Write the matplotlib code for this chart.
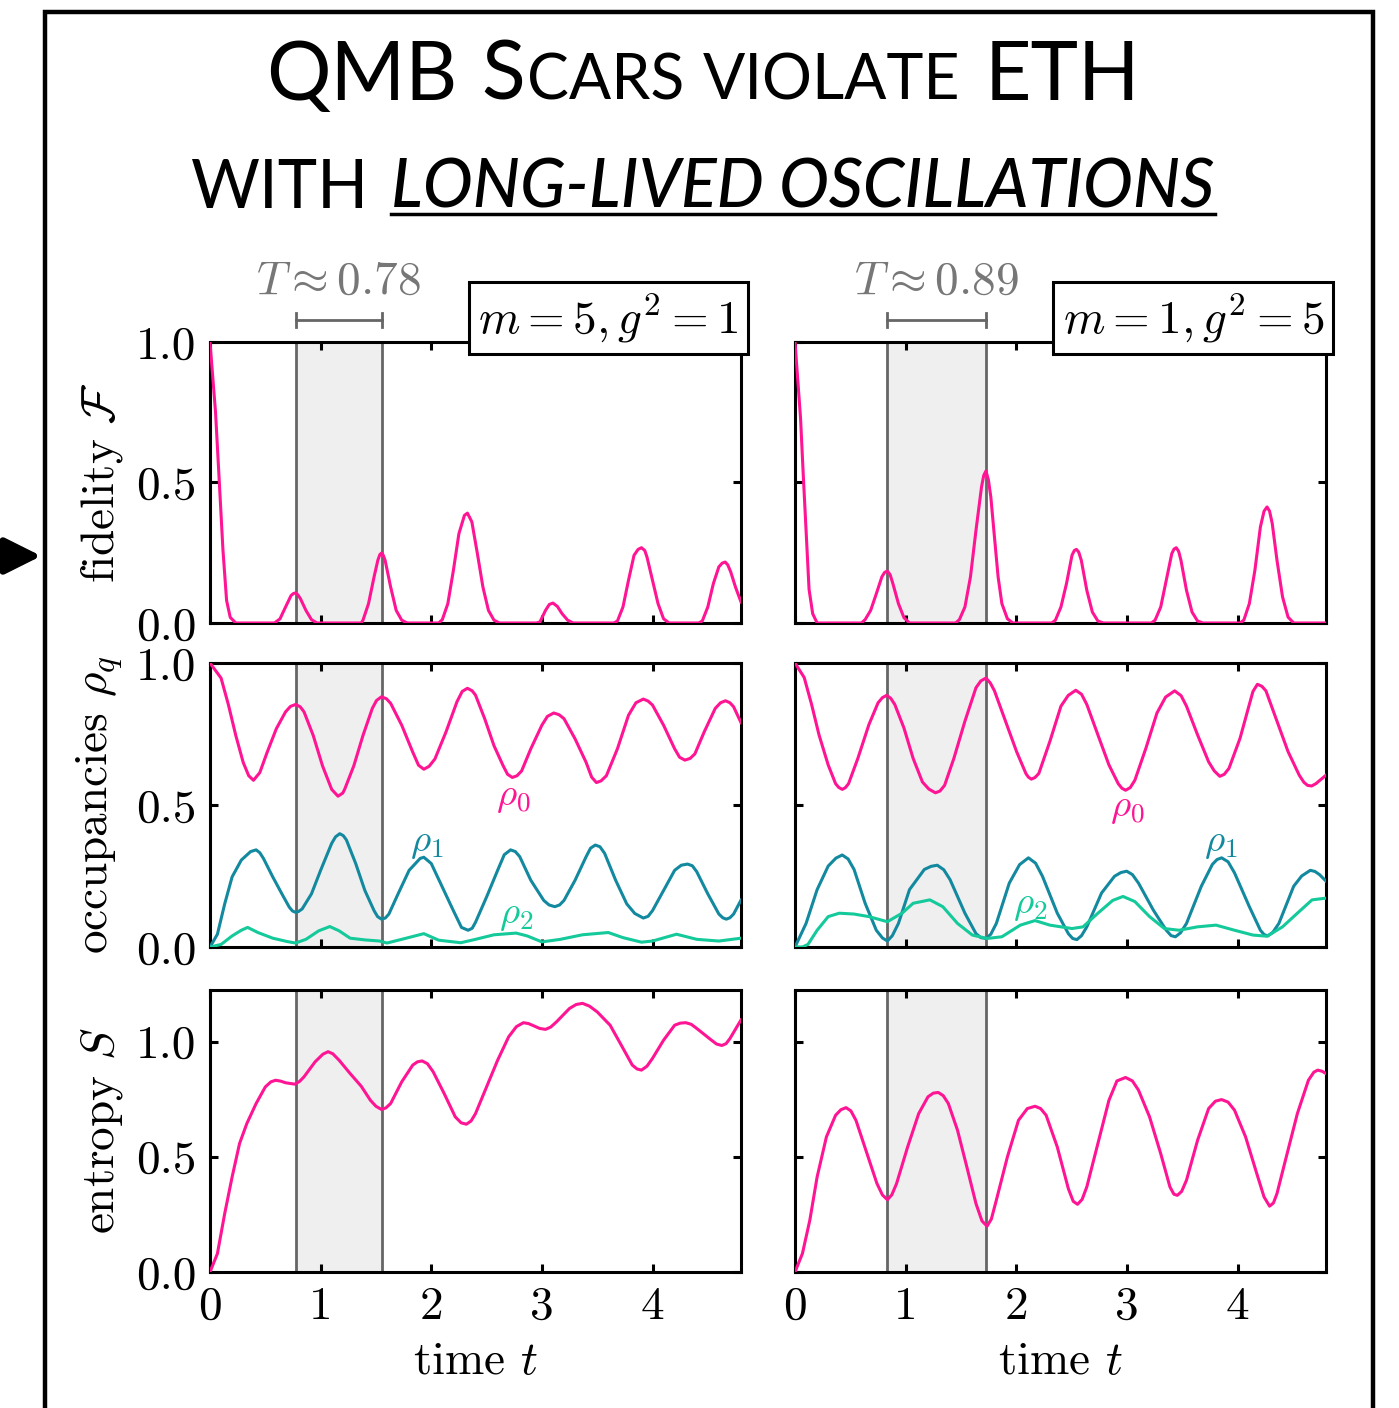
import matplotlib
matplotlib.use("Agg")
import matplotlib.pyplot as plt
from matplotlib.patches import Rectangle, FancyArrowPatch
from matplotlib.lines import Line2D

# ---- data, (time, value) ----
fid_l = [(0, 1.0), (0.05, 0.75), (0.083, 0.51), (0.117, 0.26), (0.15, 0.08), (0.183, 0.02),
         (0.233, 0.0), (0.583, 0.0),
         (0.633, 0.015), (0.683, 0.057), (0.733, 0.098), (0.755, 0.105), (0.773, 0.107),
         (0.795, 0.1), (0.817, 0.087), (0.867, 0.045), (0.917, 0.012), (0.967, 0.0),
         (1.367, 0.0), (1.383, 0.01), (1.433, 0.069), (1.483, 0.164), (1.517, 0.223),
         (1.535, 0.243), (1.55, 0.249), (1.565, 0.242), (1.583, 0.223), (1.633, 0.128),
         (1.683, 0.045), (1.733, 0.01), (1.783, 0.0),
         (2.067, 0.0), (2.1, 0.012), (2.15, 0.069), (2.2, 0.187), (2.25, 0.318), (2.3, 0.383),
         (2.327, 0.391), (2.367, 0.36), (2.417, 0.247), (2.467, 0.128), (2.517, 0.045),
         (2.567, 0.01), (2.617, 0.0),
         (2.95, 0.0), (2.983, 0.004), (3.033, 0.045), (3.067, 0.066), (3.1, 0.071),
         (3.14, 0.059), (3.183, 0.033), (3.233, 0.01), (3.283, 0.0),
         (3.65, 0.0), (3.683, 0.007), (3.733, 0.057), (3.783, 0.152), (3.833, 0.241),
         (3.87, 0.262), (3.9, 0.268), (3.93, 0.258), (3.95, 0.235), (4.0, 0.152),
         (4.05, 0.069), (4.1, 0.015), (4.15, 0.0),
         (4.417, 0.0), (4.45, 0.007), (4.5, 0.057), (4.55, 0.14), (4.6, 0.2), (4.63, 0.213),
         (4.657, 0.217), (4.68, 0.207), (4.707, 0.182), (4.75, 0.128), (4.8, 0.075)]

fid_r = [(0, 1.0), (0.05, 0.73), (0.073, 0.54), (0.1, 0.33), (0.127, 0.12), (0.16, 0.033),
         (0.2, 0.0), (0.601, 0.0),
         (0.634, 0.012), (0.684, 0.045), (0.735, 0.104), (0.785, 0.164), (0.81, 0.18),
         (0.835, 0.185), (0.86, 0.172), (0.885, 0.14), (0.935, 0.069), (0.985, 0.019),
         (1.035, 0.0),
         (1.452, 0.0), (1.486, 0.012), (1.536, 0.057), (1.586, 0.164), (1.636, 0.33),
         (1.686, 0.484), (1.706, 0.525), (1.726, 0.541), (1.748, 0.51), (1.77, 0.449),
         (1.803, 0.306), (1.836, 0.164), (1.87, 0.069), (1.92, 0.015), (1.97, 0.0),
         (2.321, 0.0), (2.354, 0.01), (2.404, 0.057), (2.454, 0.14), (2.504, 0.241),
         (2.525, 0.258), (2.544, 0.262), (2.565, 0.252), (2.588, 0.223), (2.638, 0.116),
         (2.688, 0.039), (2.738, 0.007), (2.788, 0.0),
         (3.222, 0.0), (3.255, 0.01), (3.306, 0.057), (3.356, 0.152), (3.406, 0.247),
         (3.426, 0.263), (3.446, 0.268), (3.468, 0.255), (3.489, 0.223), (3.539, 0.116),
         (3.589, 0.039), (3.639, 0.007), (3.689, 0.0),
         (4.023, 0.0), (4.057, 0.01), (4.107, 0.069), (4.157, 0.187), (4.207, 0.342),
         (4.24, 0.398), (4.267, 0.413), (4.29, 0.398), (4.314, 0.354), (4.357, 0.223),
         (4.407, 0.093), (4.457, 0.021), (4.508, 0.0), (4.8, 0.0)]

rho0_l = [(0, 1.0), (0.1, 0.947), (0.167, 0.852), (0.233, 0.745), (0.3, 0.65), (0.35, 0.603),
          (0.393, 0.587), (0.45, 0.614), (0.517, 0.686), (0.6, 0.769), (0.683, 0.828),
          (0.727, 0.847), (0.773, 0.854), (0.815, 0.846), (0.85, 0.828), (0.933, 0.745),
          (1.017, 0.638), (1.1, 0.555), (1.157, 0.531), (1.2, 0.542), (1.217, 0.555),
          (1.3, 0.638), (1.383, 0.745), (1.467, 0.84), (1.505, 0.868), (1.55, 0.881),
          (1.595, 0.874), (1.633, 0.858), (1.733, 0.781), (1.833, 0.686), (1.885, 0.64),
          (1.933, 0.626), (1.98, 0.636), (2.033, 0.662), (2.133, 0.757), (2.233, 0.864),
          (2.28, 0.9), (2.327, 0.911), (2.37, 0.902), (2.4, 0.887), (2.483, 0.804),
          (2.567, 0.709), (2.65, 0.638), (2.69, 0.608), (2.733, 0.597), (2.775, 0.603),
          (2.817, 0.62), (2.9, 0.698), (3.0, 0.781), (3.05, 0.812), (3.107, 0.824),
          (3.155, 0.818), (3.2, 0.804), (3.3, 0.733), (3.4, 0.65), (3.45, 0.598),
          (3.493, 0.579), (3.535, 0.585), (3.583, 0.603), (3.683, 0.698), (3.783, 0.816),
          (3.85, 0.86), (3.917, 0.873), (3.96, 0.866), (4.0, 0.852), (4.1, 0.781),
          (4.2, 0.698), (4.245, 0.668), (4.293, 0.658), (4.34, 0.664), (4.383, 0.68),
          (4.467, 0.757), (4.567, 0.84), (4.615, 0.86), (4.66, 0.867), (4.7, 0.86),
          (4.733, 0.846), (4.8, 0.79)]

rho1_l = [(0, 0.0), (0.067, 0.045), (0.133, 0.152), (0.2, 0.247), (0.283, 0.306),
          (0.367, 0.336), (0.417, 0.342), (0.45, 0.332), (0.483, 0.312), (0.567, 0.247),
          (0.65, 0.187), (0.717, 0.14), (0.745, 0.127), (0.773, 0.122), (0.8, 0.125),
          (0.833, 0.134), (0.917, 0.187), (1.0, 0.27), (1.1, 0.365), (1.135, 0.388),
          (1.173, 0.399), (1.205, 0.392), (1.233, 0.377), (1.317, 0.294), (1.4, 0.199),
          (1.483, 0.128), (1.515, 0.107), (1.55, 0.098), (1.585, 0.102), (1.617, 0.116),
          (1.7, 0.187), (1.8, 0.27), (1.9, 0.312), (1.933, 0.316), (2.0, 0.294),
          (2.1, 0.211), (2.2, 0.128), (2.273, 0.069), (2.333, 0.059), (2.37, 0.066),
          (2.4, 0.087), (2.5, 0.176), (2.6, 0.27), (2.66, 0.325), (2.717, 0.342),
          (2.76, 0.336), (2.8, 0.318), (2.9, 0.235), (3.017, 0.164), (3.065, 0.148),
          (3.117, 0.142), (3.16, 0.148), (3.2, 0.164), (3.3, 0.235), (3.4, 0.318),
          (3.44, 0.348), (3.483, 0.359), (3.525, 0.353), (3.567, 0.33), (3.667, 0.235),
          (3.767, 0.152), (3.84, 0.118), (3.917, 0.102), (3.96, 0.108), (4.0, 0.128),
          (4.1, 0.199), (4.2, 0.27), (4.26, 0.288), (4.317, 0.292), (4.36, 0.286),
          (4.4, 0.265), (4.5, 0.187), (4.6, 0.116), (4.635, 0.103), (4.667, 0.098),
          (4.7, 0.103), (4.733, 0.116), (4.8, 0.165)]

rho2_l = [(0, 0.0), (0.1, 0.009), (0.2, 0.039), (0.283, 0.059), (0.34, 0.069), (0.433, 0.051),
          (0.567, 0.031), (0.7, 0.019), (0.773, 0.014), (0.867, 0.027), (0.983, 0.057),
          (1.083, 0.072), (1.167, 0.057), (1.267, 0.031), (1.4, 0.025), (1.533, 0.021),
          (1.6, 0.014), (1.733, 0.027), (1.933, 0.047), (2.067, 0.024), (2.267, 0.015),
          (2.4, 0.027), (2.567, 0.043), (2.767, 0.049), (2.867, 0.039), (3.0, 0.018),
          (3.167, 0.027), (3.367, 0.043), (3.6, 0.051), (3.733, 0.033), (3.9, 0.017),
          (4.0, 0.021), (4.217, 0.045), (4.4, 0.027), (4.6, 0.021), (4.8, 0.031)]

rho0_r = [(0, 1.0), (0.083, 0.949), (0.15, 0.854), (0.217, 0.747), (0.3, 0.641),
          (0.367, 0.575), (0.395, 0.562), (0.427, 0.555), (0.455, 0.561), (0.484, 0.575),
          (0.568, 0.664), (0.668, 0.783), (0.751, 0.86), (0.79, 0.878), (0.828, 0.886),
          (0.865, 0.876), (0.902, 0.854), (0.985, 0.771), (1.068, 0.664), (1.152, 0.581),
          (1.21, 0.556), (1.269, 0.543), (1.31, 0.549), (1.352, 0.569), (1.436, 0.664),
          (1.536, 0.795), (1.636, 0.913), (1.68, 0.937), (1.726, 0.947), (1.765, 0.93),
          (1.803, 0.902), (1.903, 0.795), (2.003, 0.688), (2.087, 0.611), (2.11, 0.598),
          (2.137, 0.591), (2.17, 0.597), (2.204, 0.611), (2.304, 0.724), (2.404, 0.848),
          (2.47, 0.886), (2.538, 0.904), (2.59, 0.89), (2.638, 0.854), (2.738, 0.747),
          (2.838, 0.641), (2.922, 0.575), (2.955, 0.559), (2.988, 0.552), (3.03, 0.561),
          (3.072, 0.587), (3.172, 0.7), (3.272, 0.824), (3.35, 0.88), (3.432, 0.902),
          (3.49, 0.885), (3.539, 0.848), (3.639, 0.747), (3.739, 0.652), (3.79, 0.62),
          (3.84, 0.601), (3.88, 0.608), (3.923, 0.629), (4.023, 0.735), (4.107, 0.854),
          (4.14, 0.9), (4.18, 0.925), (4.22, 0.918), (4.257, 0.902), (4.357, 0.795),
          (4.457, 0.688), (4.558, 0.605), (4.6, 0.58), (4.634, 0.569), (4.67, 0.567),
          (4.708, 0.575), (4.8, 0.605)]

rho1_r = [(0, 0.0), (0.1, 0.083), (0.2, 0.202), (0.3, 0.285), (0.37, 0.313), (0.427, 0.324),
          (0.48, 0.31), (0.534, 0.273), (0.634, 0.154), (0.735, 0.059), (0.79, 0.032),
          (0.835, 0.021), (0.88, 0.04), (0.935, 0.083), (1.035, 0.202), (1.169, 0.273),
          (1.23, 0.284), (1.286, 0.288), (1.345, 0.272), (1.402, 0.237), (1.536, 0.119),
          (1.636, 0.047), (1.68, 0.033), (1.726, 0.03), (1.77, 0.045), (1.82, 0.083),
          (1.937, 0.225), (2.03, 0.29), (2.11, 0.314), (2.175, 0.295), (2.237, 0.249),
          (2.371, 0.119), (2.471, 0.047), (2.51, 0.03), (2.548, 0.026), (2.59, 0.04),
          (2.638, 0.071), (2.771, 0.19), (2.888, 0.249), (2.945, 0.262), (2.998, 0.267),
          (3.05, 0.255), (3.105, 0.225), (3.239, 0.13), (3.356, 0.059), (3.4, 0.04),
          (3.439, 0.036), (3.485, 0.05), (3.539, 0.083), (3.673, 0.214), (3.773, 0.291),
          (3.815, 0.308), (3.856, 0.314), (3.915, 0.3), (3.973, 0.261), (4.107, 0.142),
          (4.207, 0.059), (4.24, 0.044), (4.274, 0.039), (4.32, 0.052), (4.374, 0.083),
          (4.508, 0.214), (4.58, 0.25), (4.658, 0.27), (4.7, 0.266), (4.741, 0.255),
          (4.8, 0.232)]

rho2_r = [(0, 0.0), (0.067, 0.0), (0.117, 0.009), (0.2, 0.059), (0.3, 0.107), (0.4, 0.119),
          (0.534, 0.116), (0.668, 0.107), (0.835, 0.089), (0.968, 0.119), (1.068, 0.154),
          (1.219, 0.166), (1.336, 0.142), (1.469, 0.083), (1.603, 0.042), (1.736, 0.03),
          (1.87, 0.036), (2.037, 0.077), (2.17, 0.093), (2.304, 0.077), (2.504, 0.065),
          (2.604, 0.071), (2.738, 0.119), (2.872, 0.164), (2.965, 0.178), (3.072, 0.16),
          (3.205, 0.107), (3.339, 0.065), (3.472, 0.059), (3.639, 0.071), (3.806, 0.077),
          (3.973, 0.059), (4.14, 0.042), (4.267, 0.038), (4.407, 0.071), (4.541, 0.119),
          (4.674, 0.166), (4.8, 0.172)]

ent_l = [(0, 0.0), (0.067, 0.08), (0.133, 0.254), (0.2, 0.413), (0.267, 0.558), (0.333, 0.645),
         (0.417, 0.732), (0.5, 0.804), (0.55, 0.826), (0.593, 0.833), (0.64, 0.829),
         (0.683, 0.822), (0.767, 0.816), (0.81, 0.828), (0.85, 0.848), (0.95, 0.913),
         (1.02, 0.946), (1.067, 0.957), (1.11, 0.948), (1.167, 0.92), (1.267, 0.862),
         (1.367, 0.807), (1.45, 0.746), (1.5, 0.72), (1.55, 0.706), (1.59, 0.713),
         (1.633, 0.732), (1.733, 0.826), (1.833, 0.899), (1.875, 0.913), (1.917, 0.917),
         (1.965, 0.905), (2.017, 0.87), (2.117, 0.775), (2.217, 0.674), (2.27, 0.648),
         (2.317, 0.642), (2.36, 0.656), (2.4, 0.688), (2.5, 0.804), (2.6, 0.92),
         (2.7, 1.022), (2.77, 1.066), (2.833, 1.083), (2.88, 1.079), (2.933, 1.068),
         (2.98, 1.058), (3.033, 1.054), (3.08, 1.064), (3.133, 1.087), (3.25, 1.145),
         (3.31, 1.162), (3.367, 1.167), (3.43, 1.155), (3.5, 1.13), (3.617, 1.072),
         (3.717, 0.986), (3.817, 0.899), (3.86, 0.882), (3.9, 0.877), (3.95, 0.894),
         (4.0, 0.928), (4.1, 1.007), (4.2, 1.072), (4.25, 1.081), (4.3, 1.083),
         (4.35, 1.076), (4.4, 1.058), (4.533, 1.007), (4.58, 0.99), (4.627, 0.984),
         (4.665, 0.992), (4.7, 1.014), (4.8, 1.095)]

ent_r = [(0, 0.0), (0.067, 0.08), (0.134, 0.225), (0.2, 0.413), (0.284, 0.587), (0.367, 0.681),
         (0.415, 0.705), (0.461, 0.714), (0.505, 0.7), (0.551, 0.659), (0.651, 0.514),
         (0.741, 0.384), (0.79, 0.335), (0.835, 0.314), (0.875, 0.335), (0.918, 0.384),
         (1.018, 0.543), (1.118, 0.688), (1.202, 0.761), (1.25, 0.777), (1.295, 0.78),
         (1.34, 0.766), (1.386, 0.732), (1.469, 0.616), (1.553, 0.457), (1.636, 0.297),
         (1.69, 0.222), (1.736, 0.199), (1.775, 0.23), (1.82, 0.312), (1.92, 0.5),
         (2.02, 0.659), (2.1, 0.71), (2.17, 0.72), (2.22, 0.71), (2.27, 0.681), (2.371, 0.543),
         (2.471, 0.362), (2.515, 0.307), (2.554, 0.294), (2.595, 0.315), (2.638, 0.37),
         (2.738, 0.558), (2.838, 0.746), (2.91, 0.83), (2.988, 0.845), (3.05, 0.83),
         (3.105, 0.79), (3.205, 0.674), (3.306, 0.514), (3.389, 0.37), (3.425, 0.338),
         (3.456, 0.333), (3.495, 0.35), (3.539, 0.399), (3.639, 0.572), (3.739, 0.71),
         (3.8, 0.742), (3.856, 0.749), (3.915, 0.738), (3.973, 0.703), (4.073, 0.587),
         (4.174, 0.428), (4.24, 0.326), (4.29, 0.286), (4.325, 0.3), (4.357, 0.341),
         (4.441, 0.5), (4.541, 0.688), (4.641, 0.833), (4.69, 0.868), (4.725, 0.877),
         (4.765, 0.872), (4.8, 0.862)]

band_start = [0.775, 0.835]
period = [0.78, 0.89]
period_labels = ["0.78", "0.89"]
param_labels = [r"$m=5, g^2=1$", r"$m=1, g^2=5$"]

PINK = "#ff1493"
TEAL = "#13899f"
GREEN = "#14c99a"

plt.rcParams.update({
    "font.family": "serif",
    "font.serif": ["cmr10"],
    "mathtext.fontset": "cm",
    "axes.formatter.use_mathtext": True,
    "axes.linewidth": 2.2,
})

W, H = 1399, 1408
fig = plt.figure(figsize=(W / 100, H / 100), dpi=100)

col_x = [210 / W, 795 / W]
aw = 531 / W
rows = [(1 - 623 / H, 281 / H), (1 - 947 / H, 284 / H), (1 - 1272 / H, 282 / H)]
axes = [[fig.add_axes([cx, rb, aw, rh]) for cx in col_x] for rb, rh in rows]

fid = [fid_l, fid_r]
occ = [[rho0_l, rho1_l, rho2_l], [rho0_r, rho1_r, rho2_r]]
ent = [ent_l, ent_r]
rho_pos = [[(2.745, 0.528), (1.955, 0.366), (2.77, 0.113)],
           [(3.0, 0.49), (3.85, 0.366), (2.13, 0.148)]]


def draw(ax, pts, color):
    tt, vv = zip(*pts)
    ax.plot(tt, vv, color=color, lw=2.2, zorder=3, solid_joinstyle="round")


for c in range(2):
    a0, a1, a2 = axes[0][c], axes[1][c], axes[2][c]
    for ax in (a0, a1, a2):
        ax.axvspan(band_start[c], band_start[c] + period[c], color="#efefef", zorder=0, lw=0)
        ax.axvline(band_start[c], color="#666666", lw=2.0, zorder=1)
        ax.axvline(band_start[c] + period[c], color="#666666", lw=2.0, zorder=1)
        ax.set_xlim(0, 4.8)
        ax.set_xticks([0, 1, 2, 3, 4])
        ax.tick_params(direction="in", top=True, right=True, length=6, width=2.2,
                       labelsize=34, pad=10)
    draw(a0, fid[c], PINK)
    a0.set_ylim(0, 1)
    for pts, col in zip(occ[c], [PINK, TEAL, GREEN]):
        draw(a1, pts, col)
    for k, col in enumerate([PINK, TEAL, GREEN]):
        a1.text(rho_pos[c][k][0], rho_pos[c][k][1], r"$\rho_{%d}$" % k, color=col,
                fontsize=28, ha="center", va="center")
    a1.set_ylim(0, 1)
    draw(a2, ent[c], PINK)
    a2.set_ylim(0, 1.225)
    for ax in (a0, a1, a2):
        ax.set_yticks([0, 0.5, 1.0])
        if c == 0:
            ax.set_yticklabels(["0.0", "0.5", "1.0"])
        else:
            ax.set_yticklabels([])
    a0.set_xticklabels([])
    a1.set_xticklabels([])
    a2.set_xticklabels(["0", "1", "2", "3", "4"])
    a2.set_xlabel(r"time $t$", fontsize=34, labelpad=10)

    # period bracket above the top panel
    x0, x1 = band_start[c], band_start[c] + period[c]
    a0.plot([x0, x1], [1.078, 1.078], color="#666666", lw=2.0, clip_on=False)
    for xe in (x0, x1):
        a0.plot([xe, xe], [1.053, 1.103], color="#666666", lw=2.0, clip_on=False)
    a0.text((x0 + x1) / 2, 1.215, r"$T\approx%s$" % period_labels[c], color="#777777",
            fontsize=34, ha="center", va="center")
    a0.text(0.75, 1.085, param_labels[c], transform=a0.transAxes, fontsize=34,
            ha="center", va="center",
            bbox=dict(boxstyle="square,pad=0.2", fc="white", ec="black", lw=2.2), zorder=10)

axes[0][0].set_ylabel(r"fidelity $\mathcal{F}$", fontsize=34)
axes[1][0].set_ylabel(r"occupancies $\rho_q$", fontsize=34)
axes[2][0].set_ylabel(r"entropy $S$", fontsize=34)
for r in range(3):
    axes[r][0].yaxis.set_label_coords(-0.16, 0.5)

# outer frame and arrow
fig.add_artist(Rectangle((45 / W, -0.05), (1373 - 45) / W, 1.05 - 12 / H,
                         transform=fig.transFigure, fill=False, ec="black", lw=3.2))
fig.add_artist(FancyArrowPatch((-20 / W, 1 - 556 / H), (44 / W, 1 - 556 / H),
                               transform=fig.transFigure, arrowstyle="-|>",
                               mutation_scale=55, lw=5, color="black"))

# title built from pieces to mimic small caps
renderer = fig.canvas.get_renderer()


def place_line(pieces, y_px):
    texts = []
    for s, size, kw, gap in pieces:
        t = fig.text(0, 1 - y_px / H, s, fontsize=size, family="Lato",
                     va="baseline", ha="left", **kw)
        texts.append((t, gap))
    widths = [t.get_window_extent(renderer).width for t, _ in texts]
    total = sum(widths) + sum(g for _, g in texts)
    x = 703 - total / 2
    for (t, g), w in zip(texts, widths):
        t.set_x(x / W)
        x += w + g
    return [t for t, _ in texts]


L, S = 58, 45
place_line([("QMB", L, {}, 24), ("S", L, {}, 2), ("CARS", S, {}, 18),
            ("VIOLATE", S, {}, 24), ("ETH", L, {}, 0)], 100)
line2 = place_line([("WITH", 48, {}, 22),
                    ("LONG-LIVED OSCILLATIONS", 48,
                     {"fontstyle": "italic", "fontweight": "medium"}, 0)], 208)
bb = line2[1].get_window_extent(renderer)
fig.add_artist(Line2D([bb.x0 / W, bb.x1 / W], [1 - 214 / H, 1 - 214 / H],
                      transform=fig.transFigure, color="black", lw=2.5))

fig.savefig("out.png", dpi=100)
